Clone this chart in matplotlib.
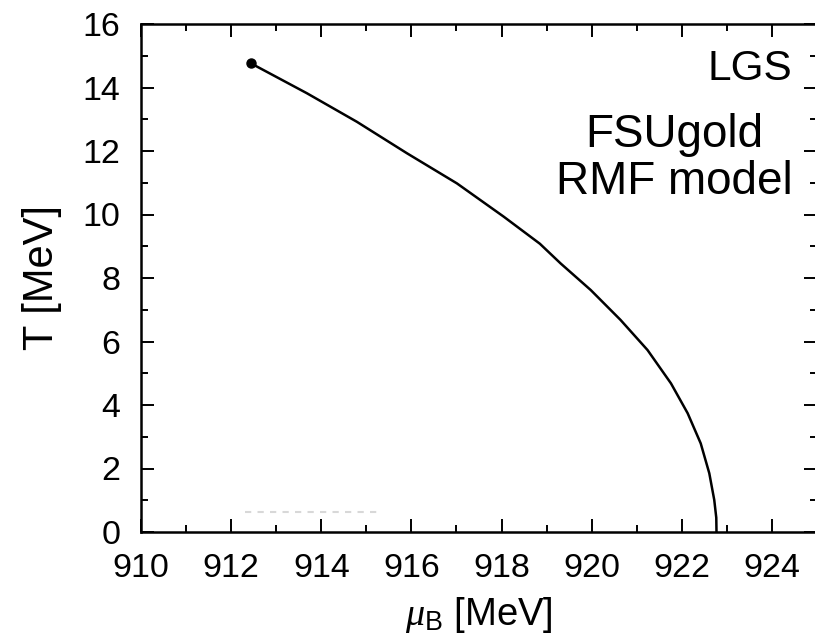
import matplotlib
matplotlib.use("Agg")
import matplotlib.pyplot as plt
from matplotlib.ticker import MultipleLocator

plt.rcParams["font.family"] = ["Liberation Sans", "DejaVu Sans"]
plt.rcParams["mathtext.fontset"] = "custom"
plt.rcParams["mathtext.rm"] = "Liberation Sans"
plt.rcParams["mathtext.it"] = "Liberation Serif:italic"

# liquid-gas coexistence line
mu_b = [912.44, 913.68, 914.79, 915.90, 917.01, 918.05, 918.85, 919.31,
        919.98, 920.64, 921.24, 921.76, 922.13, 922.42, 922.61, 922.72,
        922.765, 922.77]
temp = [14.76, 13.82, 12.92, 11.93, 10.98, 9.93, 9.08, 8.46,
        7.62, 6.68, 5.73, 4.68, 3.74, 2.79, 1.85, 1.01,
        0.45, 0.0]
# critical end point
crit_mu = [912.44]
crit_t = [14.76]
# faint leftover dashes near the bottom
faint_mu = [912.3, 915.3]
faint_t = [0.63, 0.63]

fig = plt.figure(figsize=(8.15, 6.43), dpi=100)
ax = fig.add_axes([141 / 815, 111 / 643, 676 / 815, 508 / 643])

ax.plot(faint_mu, faint_t, color="#d8d8d8", lw=1.5, ls=(0, (3, 3)))
ax.plot(mu_b, temp, color="black", lw=1.8)
ax.plot(crit_mu, crit_t, "o", color="black", ms=6.5)

ax.set_xlim(910, 925)
ax.set_ylim(0, 16)
ax.xaxis.set_major_locator(MultipleLocator(2))
ax.xaxis.set_minor_locator(MultipleLocator(1))
ax.yaxis.set_major_locator(MultipleLocator(2))
ax.yaxis.set_minor_locator(MultipleLocator(1))
ax.tick_params(which="both", direction="in", top=True, right=True, width=1.4)
ax.tick_params(which="major", length=9.5)
ax.tick_params(which="minor", length=5)
ax.tick_params(axis="x", which="major", labelsize=24.5, pad=15)
ax.tick_params(axis="y", which="major", labelsize=24.5, pad=15)
for s in ax.spines.values():
    s.set_linewidth(1.8)

ax.set_xlabel(r"$\mu_{\mathrm{B}}$ [MeV]", fontsize=27.5)
ax.set_ylabel("T [MeV]", fontsize=30)
ax.xaxis.set_label_coords(0.5, -(595 - 532) / 508)
ax.yaxis.set_label_coords(-(141 - 62) / 676, 0.5)

ax.text(792 / 815, 1 - 80 / 643, "LGS", transform=fig.transFigure,
        fontsize=30.5, ha="right", va="baseline")
ax.text(674 / 815, 1 - 147 / 643, "FSUgold", transform=fig.transFigure,
        fontsize=33, ha="center", va="baseline")
ax.text(674 / 815, 1 - 194 / 643, "RMF model", transform=fig.transFigure,
        fontsize=33, ha="center", va="baseline")

fig.savefig("out.png", dpi=100)
